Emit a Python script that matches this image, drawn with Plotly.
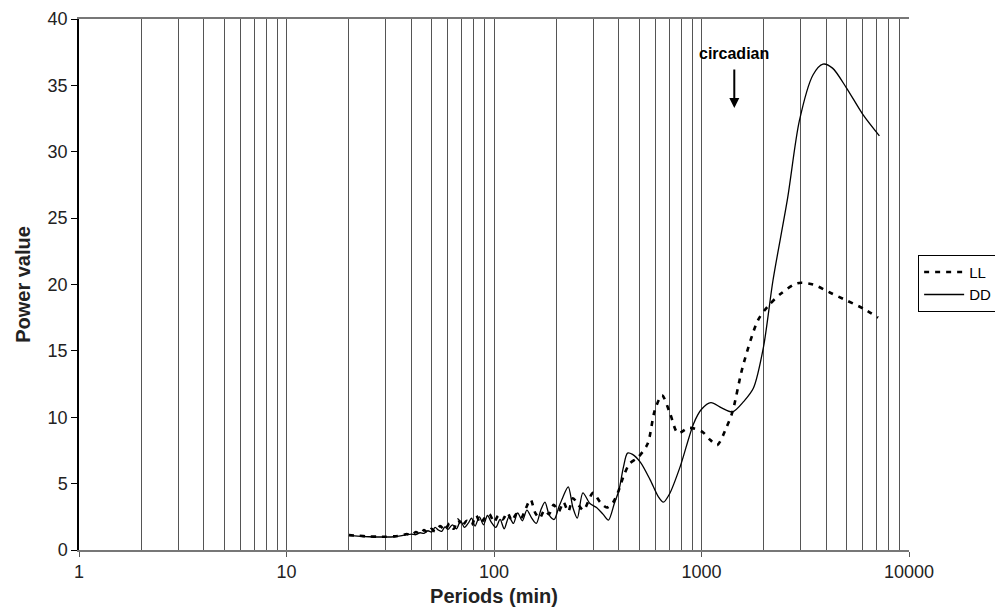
import plotly.graph_objects as go

# DD (solid) periodogram: periods (min) and power values
dd_period = [20, 22, 25, 28, 30, 33, 36, 38, 40, 42, 44, 46, 48, 50, 52, 54, 56, 58, 60,
             63, 66, 69, 72, 75, 78, 81, 85, 89, 93, 97, 102, 107, 112, 118, 124, 130,
             137, 144, 152, 160, 168, 176, 185, 195, 205, 215, 228, 240, 252, 268, 290,
             312, 335, 356, 380, 400, 420, 440, 465, 508, 565, 620, 655, 700, 790, 915,
             1000, 1110, 1250, 1410, 1600, 1780, 1990, 2210, 2600, 2960, 3450, 3850,
             4280, 5000, 6000, 7200]
dd_power = [1.10, 1.05, 1.00, 0.98, 0.98, 1.00, 1.08, 1.15, 1.20, 1.15, 1.30, 1.25, 1.45,
            1.35, 1.70, 1.50, 1.40, 1.75, 1.55, 1.90, 1.60, 2.20, 1.70, 2.00, 2.40, 1.80,
            2.50, 1.90, 2.60, 2.10, 1.70, 2.30, 1.60, 2.50, 2.00, 2.80, 2.20, 3.00, 2.40,
            2.00, 3.00, 3.60, 2.60, 2.30, 3.20, 4.00, 4.75, 3.20, 2.40, 4.30, 3.50, 3.20,
            2.70, 2.25, 3.50, 4.50, 6.20, 7.30, 7.20, 6.60, 5.30, 4.00, 3.60, 4.20, 6.30,
            9.50, 10.6, 11.1, 10.7, 10.4, 11.2, 12.2, 15.3, 20.3, 26.5, 32.3, 35.8, 36.6,
            36.3, 34.8, 32.8, 31.2]

# LL (dashed) periodogram
ll_period = [20, 22, 25, 28, 30, 33, 36, 38, 40, 42, 44, 46, 48, 50, 52, 55, 58, 61, 64,
             67, 70, 74, 78, 82, 86, 90, 95, 100, 105, 110, 116, 122, 128, 135, 142, 150,
             158, 166, 175, 184, 194, 205, 216, 228, 240, 255, 270, 300, 325, 350, 375,
             395, 420, 450, 496, 550, 595, 645, 705, 770, 870, 1010, 1100, 1190, 1320,
             1410, 1580, 1870, 2100, 2410, 2900, 3450, 4150, 5000, 6000, 7100]
ll_power = [1.12, 1.08, 1.02, 1.00, 1.00, 1.03, 1.10, 1.20, 1.10, 1.35, 1.20, 1.50, 1.30,
            1.60, 1.40, 1.80, 1.50, 2.00, 1.60, 2.30, 1.80, 2.20, 1.90, 2.60, 2.00, 2.40,
            2.70, 2.10, 2.60, 2.30, 2.80, 2.20, 2.70, 2.40, 3.10, 3.80, 2.80, 2.40, 3.00,
            2.70, 3.40, 2.90, 3.60, 2.90, 3.90, 3.40, 3.00, 4.30, 3.60, 3.20, 3.60, 4.30,
            5.50, 6.50, 7.00, 8.00, 10.5, 11.65, 10.3, 8.8, 9.2, 8.9, 8.3, 7.9, 9.25, 10.4,
            13.8, 17.3, 18.4, 19.3, 20.1, 20.0, 19.4, 18.8, 18.2, 17.5]

x_tick_vals = [1, 10, 100, 1000, 10000]
x_tick_text = ["1", "10", "100", "1000", "10000"]
y_tick_vals = [0, 5, 10, 15, 20, 25, 30, 35, 40]

circadian_period = 1440

FONT = "Liberation Sans, Arial, sans-serif"

fig = go.Figure()
fig.add_trace(go.Scatter(x=ll_period, y=ll_power, mode="lines", name="LL",
                         line=dict(color="black", width=2.6, dash="5px,6px",
                                   shape="spline", smoothing=0.8)))
fig.add_trace(go.Scatter(x=dd_period, y=dd_power, mode="lines", name="DD",
                         line=dict(color="black", width=1.3, shape="spline",
                                   smoothing=0.8)))

fig.add_annotation(x=3.158, y=33.3, ax=3.158, ay=36.3, xref="x", yref="y",
                   axref="x", ayref="y", text="", showarrow=True,
                   arrowhead=2, arrowsize=1, arrowwidth=2, arrowcolor="black")
fig.add_annotation(x=3.158, y=37.4, xref="x", yref="y", text="<b>circadian</b>",
                   showarrow=False, font=dict(family=FONT, size=16, color="black"))

fig.update_layout(
    width=995, height=615,
    margin=dict(l=79, r=86, t=19, b=65, autoexpand=False),
    paper_bgcolor="white", plot_bgcolor="white",
    font=dict(family=FONT, color="black"),
    legend=dict(x=1.011, y=0.556, xanchor="left", yanchor="top",
                bgcolor="white", bordercolor="black", borderwidth=1,
                font=dict(family=FONT, size=15, color="black"),
                itemwidth=40, tracegroupgap=0),
    xaxis=dict(type="log", range=[0, 4], tickvals=x_tick_vals, ticktext=x_tick_text,
               ticks="outside", ticklen=5, tickcolor="#555",
               tickfont=dict(family=FONT, size=18, color="#222"),
               showline=True, linecolor="#777", linewidth=1.5, mirror=True,
               showgrid=True, gridcolor="#555", gridwidth=1,
               minor=dict(dtick="D1", showgrid=True, gridcolor="#555", gridwidth=1,
                          ticks=""),
               zeroline=False,
               title=dict(text="<b>Periods (min)</b>", standoff=8,
                          font=dict(family=FONT, size=20, color="#222"))),
    yaxis=dict(range=[0, 40], tickvals=y_tick_vals, ticks="outside", ticklen=6,
               tickcolor="black", tickfont=dict(family=FONT, size=18, color="#222"),
               showline=True, linecolor="black", linewidth=1.5, showgrid=False,
               zeroline=False,
               title=dict(text="<b>Power value</b>", standoff=12,
                          font=dict(family=FONT, size=20, color="#222"))),
)

fig.write_html("out.html")
